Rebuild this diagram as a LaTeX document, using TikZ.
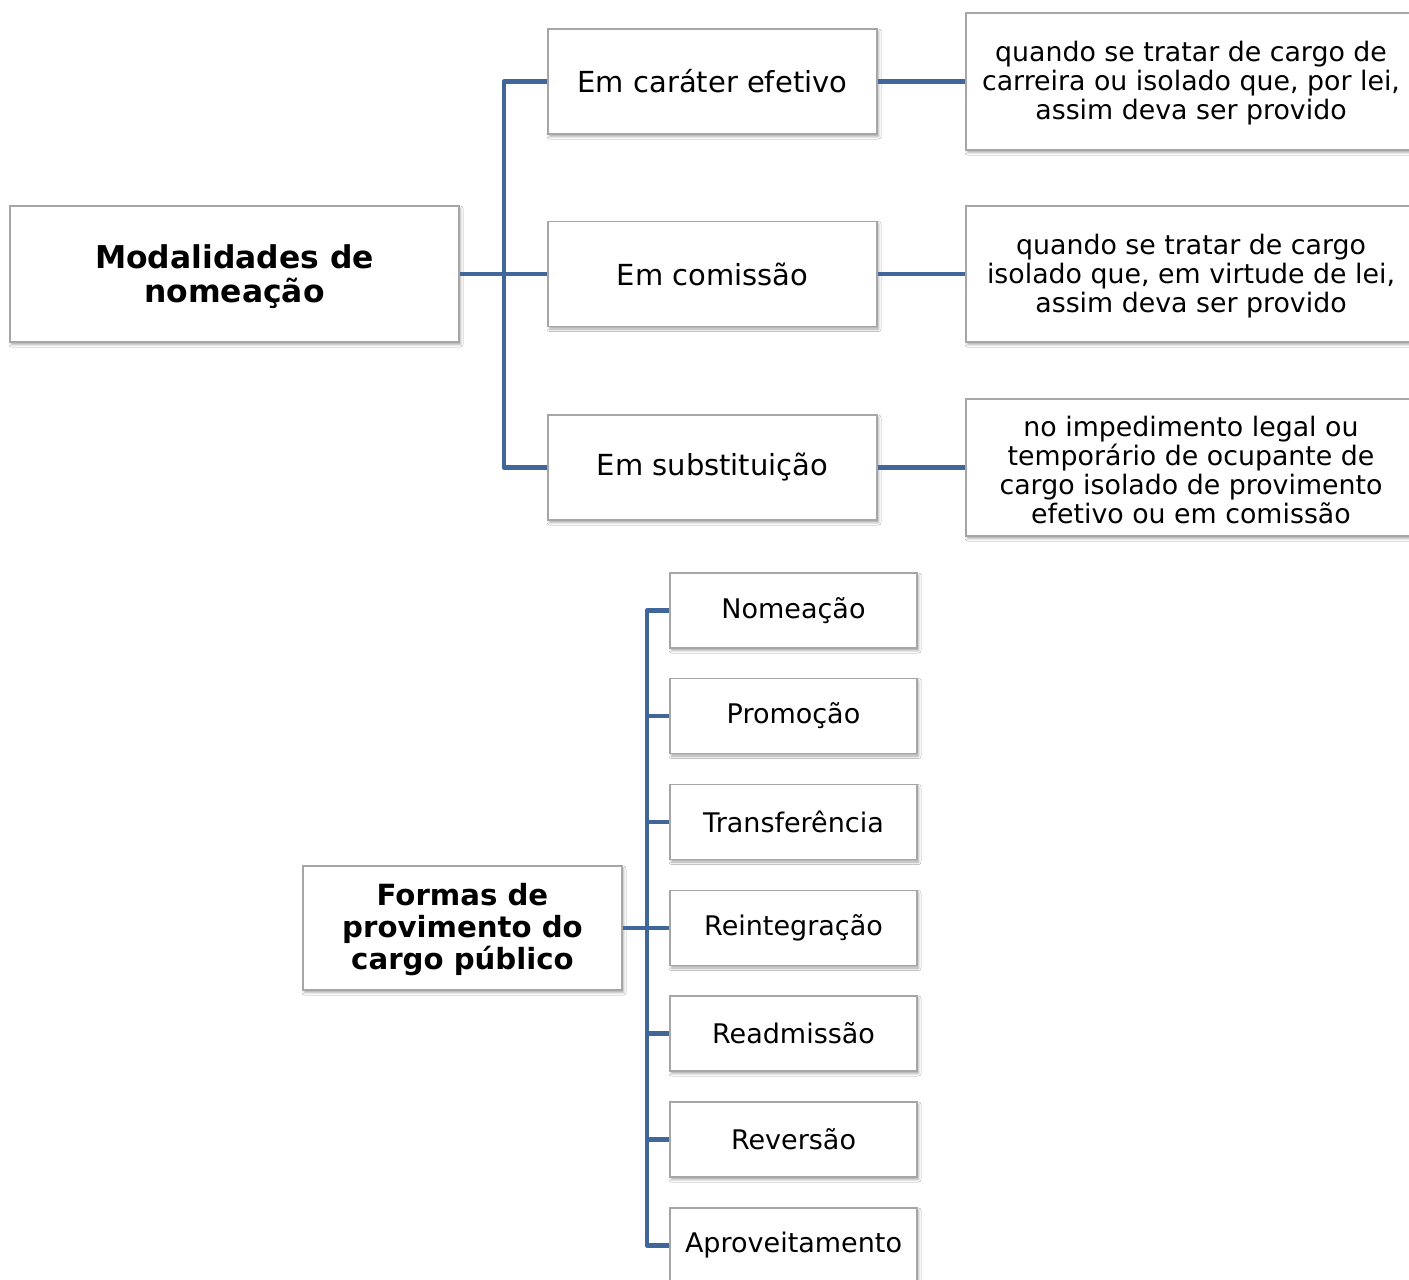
\documentclass[tikz,border=0pt]{standalone}
\usepackage{fontspec}
\setmainfont{DejaVu Sans}
\usetikzlibrary{shadows.blur}
\definecolor{linkblue}{HTML}{41679A}
\definecolor{boxgray}{HTML}{A6A6A6}
\tikzset{
  box/.style={draw=boxgray, line width=1.4pt, fill=white, align=center, inner sep=0pt,
    blur shadow={shadow xshift=1.5pt, shadow yshift=-2.5pt, shadow blur radius=2.5pt, shadow opacity=35}},
  midtxt/.style={font=\fontsize{29}{32}\selectfont},
  smalltxt/.style={font=\fontsize{26.8}{29.2}\selectfont},
  listtxt/.style={font=\fontsize{27}{30}\selectfont},
  boldtxt/.style={font=\fontsize{31.4}{34}\selectfont\bfseries},
  link/.style={draw=linkblue, line width=4.5pt},
}
\begin{document}
\begin{tikzpicture}[x=1pt, y=-1pt]
\clip (0,0) rectangle (1409,1280);
\fill[white] (0,0) rectangle (1409,1280);
% top part
\node[box, minimum width=449, minimum height=136] (mod) at (234.5,274) {};
\node[boldtxt, align=center] (modt) at (234.5,276.5) {Modalidades de\\nomeação};
\node[box, midtxt, minimum width=329, minimum height=105] (efe) at (712.5,81.5) {Em caráter efetivo};
\node[box, midtxt, minimum width=329, minimum height=105] (com) at (712.5,274) {Em comissão};
\node[box, midtxt, minimum width=329, minimum height=105] (sub) at (712.5,467.5) {Em substituição};
\node[box, minimum width=452, minimum height=137] (d1) at (1192,81.5) {};
\node[smalltxt, align=center] (t1) at (1191,83) {quando se tratar de cargo de\\carreira ou isolado que, por lei,\\assim deva ser provido};
\node[box, minimum width=452, minimum height=136] (d2) at (1192,274) {};
\node[smalltxt, align=center] (t2) at (1191,276) {quando se tratar de cargo\\isolado que, em virtude de lei,\\assim deva ser provido};
\node[box, minimum width=452, minimum height=137] (d3) at (1192,467.5) {};
\node[smalltxt, align=center] (t3) at (1191,470) {no impedimento legal ou\\temporário de ocupante de\\cargo isolado de provimento\\efetivo ou em comissão};
\coordinate (tr) at (504,274);
\draw[link] (mod.east) -- (tr);
\draw[link, line join=round] (efe.west) -- (efe.west -| tr) -- (sub.west -| tr) -- (sub.west);
\draw[link] (tr) -- (com.west);
\draw[link] (efe.east) -- (d1.west);
\draw[link] (com.east) -- (d2.west);
\draw[link] (sub.east) -- (d3.west);
% bottom part
\node[box, minimum width=319, minimum height=124] (for) at (462.5,928) {};
\node[font=\fontsize{29.2}{32}\selectfont\bfseries, align=center] (fort) at (462.5,929.5) {Formas de\\provimento do\\cargo público};
\foreach \n/\t/\y in {f1/Nomeação/610.5, f2/Promoção/716, f3/Transferência/822, f4/Reintegração/928, f5/Readmissão/1033.5, f6/Reversão/1139.5, f7/Aproveitamento/1245.5}{
  \node[box, listtxt, minimum width=247, minimum height=75] (\n) at (793.5,\y) {\t};
}
\coordinate (tb) at (647,928);
\draw[link] (for.east) -- (tb);
\draw[link, line join=round] (f1.west) -- (f1.west -| tb) -- (f7.west -| tb) -- (f7.west);
\foreach \n in {f2,f3,f4,f5,f6}{
  \draw[link] (\n.west -| tb) -- (\n.west);
}
\end{tikzpicture}
\end{document}
